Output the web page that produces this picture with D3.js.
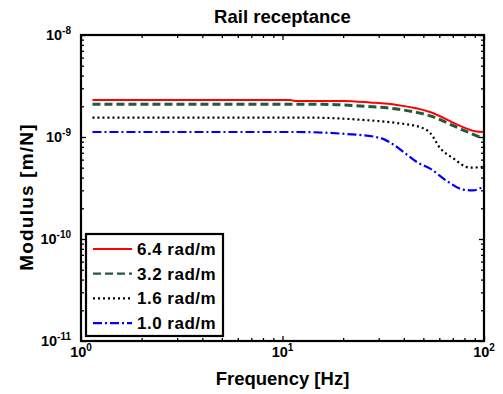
<!DOCTYPE html>
<html>
<head>
<meta charset="utf-8">
<script src="https://cdn.jsdelivr.net/npm/d3@7/dist/d3.min.js"></script>
<style>
  html, body { margin: 0; padding: 0; background: #fff; }
  text { font-family: "Liberation Sans", Arial, sans-serif; font-weight: bold; fill: #000; }
</style>
</head>
<body>
<svg id="chart" width="503" height="394"></svg>
<script>
// Rail receptance modulus for four wavenumbers (frequency in Hz, modulus in m/N)
const freq64 = [1.14, 10.9, 11.5, 20.0, 27.2, 37.0, 54.0, 78.7, 90.2, 100];
const mod64  = [2.31e-9, 2.31e-9, 2.26e-9, 2.26e-9, 2.18e-9, 2.06e-9, 1.76e-9, 1.25e-9, 1.14e-9, 1.12e-9];

const freq32 = [1.14, 15.9, 24.2, 37.0, 54.0, 78.7, 100];
const mod32  = [2.09e-9, 2.09e-9, 2.01e-9, 1.88e-9, 1.61e-9, 1.17e-9, 0.96e-9];

const freq16 = [1.14, 13.2, 25.1, 37.0, 48.1, 54.0, 60.5, 70.2, 85.2, 100];
const mod16  = [1.55e-9, 1.55e-9, 1.47e-9, 1.37e-9, 1.25e-9, 1.10e-9, 0.78e-9, 0.62e-9, 0.50e-9, 0.51e-9];

const freq10 = [1.14, 11.3, 20.9, 30.5, 35.3, 41.5, 47.0, 54.0, 65.5, 78.7, 88.2, 100];
const mod10  = [1.12e-9, 1.12e-9, 1.07e-9, 0.98e-9, 0.85e-9, 0.67e-9, 0.56e-9, 0.49e-9, 0.37e-9, 0.305e-9, 0.30e-9, 0.33e-9];

const seriesLabels = ["6.4 rad/m", "3.2 rad/m", "1.6 rad/m", "1.0 rad/m"];

const xMajor = [1, 10, 100];
const xMajorExp = ["0", "1", "2"];
const yMajor = [1e-11, 1e-10, 1e-9, 1e-8];
const yMajorExp = ["-11", "-10", "-9", "-8"];

const svg = d3.select("#chart");
const L = 81, R = 484, T = 35, B = 341;

const x = d3.scaleLog().domain([1, 100]).range([L, R]);
const y = d3.scaleLog().domain([1e-11, 1e-8]).range([B, T]);

// minor ticks at 2..9 of each decade
const xMinor = [];
for (let d = 1; d < 100; d *= 10) for (let k = 2; k <= 9; k++) xMinor.push(k * d);
const yMinor = [];
for (let d = 1e-11; d < 9e-9; d *= 10) for (let k = 2; k <= 9; k++) yMinor.push(k * d);

const series = [
  { f: freq64, m: mod64, color: "#ff0000", width: 2, dash: null },
  { f: freq32, m: mod32, color: "#205a3c", width: 3, dash: "8,4" },
  { f: freq16, m: mod16, color: "#000000", width: 2.2, dash: "2,3" },
  { f: freq10, m: mod10, color: "#0000ff", width: 2.2, dash: "9,3,2,3" }
];

const line = d3.line()
  .x(d => x(d[0]))
  .y(d => y(d[1]))
  .curve(d3.curveMonotoneX);

const plot = svg.append("g");
series.forEach(s => {
  plot.append("path")
    .datum(s.f.map((f, i) => [f, s.m[i]]))
    .attr("d", line)
    .attr("fill", "none")
    .attr("stroke", s.color)
    .attr("stroke-width", s.width)
    .attr("stroke-dasharray", s.dash);
});

// inward ticks on all four sides
function addAxis(axisFn, scale, values, size, transform) {
  const g = svg.append("g")
    .attr("transform", transform)
    .call(axisFn(scale).tickValues(values).tickSize(size).tickFormat(""));
  g.select(".domain").remove();
  g.selectAll(".tick line").attr("stroke", "#000").attr("stroke-width", 1.3);
}
addAxis(d3.axisBottom, x, xMajor, -5, `translate(0,${B})`);
addAxis(d3.axisBottom, x, xMinor, -3, `translate(0,${B})`);
addAxis(d3.axisTop, x, xMajor, -5, `translate(0,${T})`);
addAxis(d3.axisTop, x, xMinor, -3, `translate(0,${T})`);
addAxis(d3.axisLeft, y, yMajor, -5, `translate(${L},0)`);
addAxis(d3.axisLeft, y, yMinor, -3, `translate(${L},0)`);
addAxis(d3.axisRight, y, yMajor, -5, `translate(${R},0)`);
addAxis(d3.axisRight, y, yMinor, -3, `translate(${R},0)`);

// axes box
svg.append("rect")
  .attr("x", L).attr("y", T)
  .attr("width", R - L).attr("height", B - T)
  .attr("fill", "none").attr("stroke", "#000").attr("stroke-width", 2.2);

// tick labels with superscript exponents
xMajor.forEach((v, i) => {
  const t = svg.append("text")
    .attr("x", x(v)).attr("y", 357)
    .attr("text-anchor", "middle")
    .style("font-size", "14.5px");
  t.append("tspan").text("10");
  t.append("tspan").attr("dy", -6).style("font-size", "10px").text(xMajorExp[i]);
});
yMajor.forEach((v, i) => {
  const t = svg.append("text")
    .attr("x", 71).attr("y", y(v) + 5)
    .attr("text-anchor", "end")
    .style("font-size", "14.5px");
  t.append("tspan").text("10");
  t.append("tspan").attr("dy", -6).style("font-size", "10px").text(yMajorExp[i]);
});

// title and axis labels
svg.append("text")
  .attr("x", (L + R) / 2).attr("y", 23)
  .attr("text-anchor", "middle")
  .style("font-size", "18.5px")
  .text("Rail receptance");
svg.append("text")
  .attr("x", (L + R) / 2).attr("y", 385)
  .attr("text-anchor", "middle")
  .style("font-size", "18.5px")
  .text("Frequency [Hz]");
svg.append("text")
  .attr("transform", `translate(33,197) rotate(-90)`)
  .attr("text-anchor", "middle")
  .style("font-size", "19px")
  .style("letter-spacing", "1.2px")
  .text("Modulus [m/N]");

// legend
const lg = svg.append("g");
lg.append("rect")
  .attr("x", 86).attr("y", 234)
  .attr("width", 137).attr("height", 102)
  .attr("fill", "#fff").attr("stroke", "#000").attr("stroke-width", 2.2);
series.forEach((s, i) => {
  const cy = 249 + i * 24.7;
  lg.append("line")
    .attr("x1", 93).attr("x2", 132)
    .attr("y1", cy).attr("y2", cy)
    .attr("stroke", s.color)
    .attr("stroke-width", Math.min(s.width, 2.2))
    .attr("stroke-dasharray", s.dash);
  lg.append("text")
    .attr("x", 137).attr("y", cy + 6)
    .style("font-size", "17px")
    .style("letter-spacing", "0.5px")
    .text(seriesLabels[i]);
});
</script>
</body>
</html>
